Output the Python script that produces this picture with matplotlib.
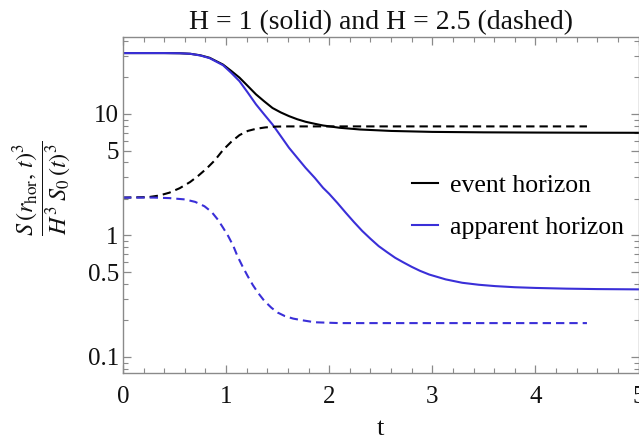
import matplotlib
matplotlib.use("Agg")
import matplotlib.pyplot as plt
from matplotlib.ticker import FixedLocator, NullFormatter, MultipleLocator
from matplotlib.lines import Line2D

# H = 1, event horizon (solid black)
t_ev1 = [0, 0.4, 0.55, 0.65, 0.75, 0.84, 0.97, 1.05, 1.13, 1.21, 1.29, 1.37, 1.45, 1.53,
         1.61, 1.69, 1.77, 1.86, 1.94, 2.1, 2.3, 2.6, 3.0, 3.5, 4.0, 4.5, 5.0]
s_ev1 = [31.7, 31.7, 31.6, 31.3, 30.4, 29.0, 25.5, 22.6, 19.9, 17.0, 14.5, 12.7, 11.2, 10.3,
         9.6, 9.05, 8.63, 8.3, 8.04, 7.7, 7.45, 7.25, 7.12, 7.06, 7.03, 7.01, 7.0]

# H = 1, apparent horizon (solid blue)
t_ap1 = [0, 0.4, 0.55, 0.65, 0.75, 0.84, 0.97, 1.05, 1.13, 1.21, 1.29, 1.37, 1.45, 1.53,
         1.61, 1.69, 1.77, 1.86, 1.94, 2.0, 2.08, 2.16, 2.24, 2.32, 2.4, 2.48, 2.56, 2.64,
         2.72, 2.8, 2.88, 2.97, 3.13, 3.29, 3.45, 3.61, 3.8, 4.0, 4.3, 4.6, 5.0]
s_ap1 = [31.7, 31.7, 31.6, 31.3, 30.3, 28.8, 25.2, 21.8, 18.6, 15.0, 12.0, 9.9, 8.2, 6.58,
         5.27, 4.36, 3.61, 2.98, 2.47, 2.2, 1.85, 1.54, 1.29, 1.09, 0.94, 0.817, 0.73, 0.655,
         0.60, 0.552, 0.512, 0.477, 0.435, 0.408, 0.393, 0.383, 0.375, 0.370, 0.365, 0.362, 0.36]

# H = 2.5, event horizon (dashed black)
t_ev25 = [0, 0.25, 0.35, 0.45, 0.55, 0.65, 0.73, 0.81, 0.89, 0.97, 1.05, 1.13, 1.21, 1.29,
          1.38, 1.48, 1.6, 1.8, 2.1, 2.6, 3.5, 4.5]
s_ev25 = [2.05, 2.07, 2.13, 2.25, 2.45, 2.75, 3.1, 3.55, 4.15, 5.05, 5.9, 6.7, 7.25, 7.55,
          7.75, 7.87, 7.9, 7.9, 7.9, 7.9, 7.9, 7.9]

# H = 2.5, apparent horizon (dashed blue)
t_ap25 = [0, 0.3, 0.45, 0.6, 0.7, 0.79, 0.86, 0.92, 0.97, 1.02, 1.07, 1.11, 1.16, 1.21,
          1.26, 1.31, 1.37, 1.44, 1.5, 1.57, 1.65, 1.73, 1.86, 2.1, 2.6, 3.5, 4.5]
s_ap25 = [2.05, 2.05, 2.03, 1.98, 1.89, 1.74, 1.56, 1.35, 1.16, 0.99, 0.82, 0.676, 0.555,
          0.462, 0.39, 0.337, 0.29, 0.254, 0.232, 0.217, 0.207, 0.201, 0.193, 0.19, 0.19,
          0.19, 0.19]

x_ticks = [0, 1, 2, 3, 4, 5]
y_ticks = [0.1, 0.5, 1, 5, 10]
y_ticklabels = ["0.1", "0.5", "1", "5", "10"]
legend_labels = ["event horizon", "apparent horizon"]

BLACK = "#000000"
BLUE = "#3a2fd8"
FRAME = "#8a8a8a"

plt.rcParams["font.family"] = ["Liberation Serif", "DejaVu Serif"]
plt.rcParams["mathtext.fontset"] = "stix"

fig = plt.figure(figsize=(6.39, 4.41), dpi=100)
ax = fig.add_axes([123 / 639, 68 / 441, 515.5 / 639, 336 / 441])

lw = 1.5
dash = (4, 2.4)
ax.plot(t_ev1, s_ev1, color=BLACK, lw=lw)
ax.plot(t_ap1, s_ap1, color=BLUE, lw=lw)
ax.plot(t_ev25, s_ev25, color=BLACK, lw=lw, dashes=dash)
ax.plot(t_ap25, s_ap25, color=BLUE, lw=lw, dashes=dash)

ax.set_yscale("log")
ax.set_xlim(0, 5)
ax.set_ylim(0.0738, 43)

ax.xaxis.set_major_locator(FixedLocator(x_ticks))
ax.xaxis.set_minor_locator(MultipleLocator(0.2))
ax.set_xticklabels([str(v) for v in x_ticks])

minor_y = [v * d for d in (0.01, 0.1, 1, 10) for v in range(1, 10)]
minor_y = [m for m in minor_y if m not in y_ticks and 0.07 <= m <= 45]
ax.yaxis.set_major_locator(FixedLocator(y_ticks))
ax.yaxis.set_minor_locator(FixedLocator(minor_y))
ax.set_yticklabels(y_ticklabels)
ax.yaxis.set_minor_formatter(NullFormatter())

for s in ax.spines.values():
    s.set_color(FRAME)
    s.set_linewidth(1.0)

ax.tick_params(which="both", direction="in", top=True, right=True, color=FRAME,
               labelsize=18, labelcolor="#111111")
ax.tick_params(which="major", length=6, width=0.9)
ax.tick_params(which="minor", length=3.5, width=0.8)
ax.tick_params(axis="x", which="major", pad=9.5)
ax.tick_params(axis="y", which="major", pad=3)

ax.set_title("H = 1 (solid) and H = 2.5 (dashed)", fontsize=20, pad=6, color="#111111")
ax.set_xlabel("t", fontsize=19, color="#111111")
ax.xaxis.set_label_coords(0.5, -0.135)
ax.set_ylabel(r"$\dfrac{S\,(r_{\mathrm{hor}},\,t)^3}{H^3\;S_0\,(t)^3}$", fontsize=17.5,
              color="#111111")
ax.yaxis.set_label_coords(-0.097, 0.55)

handles = [Line2D([], [], color=BLACK, lw=lw), Line2D([], [], color=BLUE, lw=lw)]
ax.legend(handles, legend_labels, loc="center left", bbox_to_anchor=(0.516, 0.496),
          frameon=False, fontsize=18.5, handlelength=1.0, handletextpad=0.47,
          labelspacing=0.76)

fig.savefig("out.png", dpi=100)
